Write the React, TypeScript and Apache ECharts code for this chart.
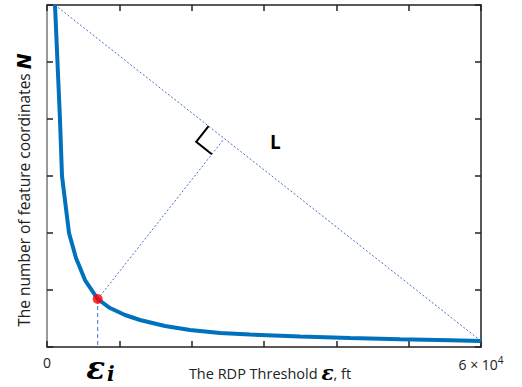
import React, { useEffect, useRef } from "react";
import * as echarts from "echarts";

// RDP threshold (ft) and number of feature coordinates N
const thresholds = [1106, 1797, 2074, 3042, 4009, 5254, 7009, 8710, 10784, 12857, 16314, 19770, 23917, 28065, 34977, 41890, 48802, 55715, 60000];
const counts = [6000, 3982, 3000, 2000, 1561, 1175, 842, 684, 561, 474, 368, 298, 246, 219, 184, 158, 135, 118, 105];
const kneeIndex = 6;
const xTickLabels: Record<number, string> = { 0: "0", 60000: "6 × 10{sup|4}" };

const FONT = "'Open Sans', 'Noto Sans', sans-serif";
const BLUE = "#0072BD";
const DASH = "#4472C4";

export default function App() {
  const ref = useRef<HTMLDivElement>(null);
  useEffect(() => {
    if (!ref.current) return;
    document.body.style.margin = "0";
    const chart = echarts.init(ref.current, undefined, { renderer: "svg" });
    const last = thresholds.length - 1;
    const knee = [thresholds[kneeIndex], counts[kneeIndex]];

    const renderItem = (_params: any, api: any) => {
      const A = api.coord([thresholds[0], counts[0]]);
      const B = api.coord([thresholds[last], counts[last]]);
      const P = api.coord(knee);
      const O = api.coord([knee[0], 0]);
      const dx = B[0] - A[0];
      const dy = B[1] - A[1];
      const len = Math.hypot(dx, dy);
      const u = [dx / len, dy / len];
      const t = (P[0] - A[0]) * u[0] + (P[1] - A[1]) * u[1];
      const F = [A[0] + t * u[0], A[1] + t * u[1]];
      const pl = Math.hypot(P[0] - F[0], P[1] - F[1]);
      const n = [(P[0] - F[0]) / pl, (P[1] - F[1]) / pl];
      const s = 20;
      const m1 = [F[0] - s * u[0], F[1] - s * u[1]];
      const m2 = [F[0] - s * u[0] + s * n[0], F[1] - s * u[1] + s * n[1]];
      const m3 = [F[0] + s * n[0], F[1] + s * n[1]];
      return {
        type: "group",
        children: [
          {
            type: "line",
            shape: { x1: A[0], y1: A[1], x2: B[0], y2: B[1] },
            style: { stroke: DASH, lineWidth: 1, lineDash: [2, 2] },
          },
          {
            type: "line",
            shape: { x1: P[0], y1: P[1], x2: F[0], y2: F[1] },
            style: { stroke: DASH, lineWidth: 1, lineDash: [2, 2] },
          },
          {
            type: "line",
            shape: { x1: P[0], y1: P[1], x2: O[0], y2: O[1] },
            style: { stroke: DASH, lineWidth: 1, lineDash: [4, 3] },
          },
          {
            type: "polyline",
            shape: { points: [m1, m2, m3] },
            style: { stroke: "#000", lineWidth: 2, fill: null },
          },
          {
            type: "text",
            x: F[0] + 51,
            y: F[1] + 3,
            style: { text: "L", font: `bold 19px ${FONT}`, fill: "#000", align: "center", verticalAlign: "middle" },
          },
          {
            type: "text",
            x: O[0] - 2,
            y: O[1] + 21,
            style: { text: "ε", font: "italic bold 31px 'DejaVu Serif', serif", lineHeight: 28, fill: "#000", align: "center", verticalAlign: "middle" },
          },
          {
            type: "text",
            x: O[0] + 13,
            y: O[1] + 27,
            style: { text: "i", font: "italic bold 20px 'DejaVu Serif', serif", lineHeight: 18, fill: "#000", align: "center", verticalAlign: "middle" },
          },
        ],
      };
    };

    const frameAxis = (color: string) => ({
      onZero: false,
      show: true,
      lineStyle: { color, width: 1.5 },
    });
    const ticks = { show: true, inside: true, length: 6, lineStyle: { color: "#222", width: 1.5 } };

    chart.setOption({
      animation: false,
      grid: { left: 47, right: 41, top: 5, bottom: 40, containLabel: false },
      xAxis: [
        {
          type: "value",
          min: 0,
          max: 60000,
          interval: 10000,
          position: "bottom",
          splitLine: { show: false },
          axisLine: frameAxis("#222"),
          axisTick: ticks,
          axisLabel: {
            margin: 8,
            fontFamily: FONT,
            fontSize: 14,
            color: "#222",
            formatter: (v: number) => xTickLabels[v] ?? "",
            rich: { sup: { fontSize: 10, verticalAlign: "top", padding: [0, 0, 8, 0], fontFamily: FONT, color: "#222" } },
          },
        },
        {
          type: "value",
          min: 0,
          max: 60000,
          interval: 10000,
          position: "top",
          splitLine: { show: false },
          axisLine: frameAxis("#222"),
          axisTick: ticks,
          axisLabel: { show: false },
        },
      ],
      yAxis: [
        {
          type: "value",
          min: 0,
          max: 6000,
          interval: 1000,
          position: "left",
          splitLine: { show: false },
          axisLine: frameAxis("#777"),
          axisTick: ticks,
          axisLabel: { show: false },
        },
        {
          type: "value",
          min: 0,
          max: 6000,
          interval: 1000,
          position: "right",
          splitLine: { show: false },
          axisLine: frameAxis("#222"),
          axisTick: ticks,
          axisLabel: { show: false },
        },
      ],
      graphic: [
        {
          type: "text",
          x: 24,
          y: 190,
          rotation: Math.PI / 2,
          style: {
            text: "The number of feature coordinates {n|N}",
            font: `15.5px ${FONT}`,
            fill: "#222",
            align: "center",
            verticalAlign: "middle",
            rich: { n: { font: "italic bold 19px 'DejaVu Sans', sans-serif", fill: "#000" } },
          },
        },
        {
          type: "text",
          x: 270,
          y: 373,
          style: {
            text: "The RDP Threshold {e|ε}{f|, ft}",
            font: `14.5px ${FONT}`,
            fill: "#222",
            align: "center",
            verticalAlign: "middle",
            rich: {
              e: { font: "italic bold 20px 'DejaVu Serif', serif", fill: "#000" },
              f: { font: `14.5px ${FONT}`, fill: "#222" },
            },
          },
        },
      ],
      series: [
        {
          type: "custom",
          renderItem,
          data: [0],
          z: 1,
          silent: true,
        },
        {
          type: "line",
          data: thresholds.map((x, i) => [x, counts[i]]),
          symbol: "none",
          lineStyle: { color: BLUE, width: 4 },
          z: 2,
          clip: true,
          silent: true,
        },
        {
          type: "scatter",
          data: [knee],
          symbolSize: 10,
          itemStyle: { color: "#FF0000" },
          z: 3,
          silent: true,
        },
      ],
    });
    return () => chart.dispose();
  }, []);
  return <div ref={ref} style={{ width: 522, height: 387 }} />;
}
